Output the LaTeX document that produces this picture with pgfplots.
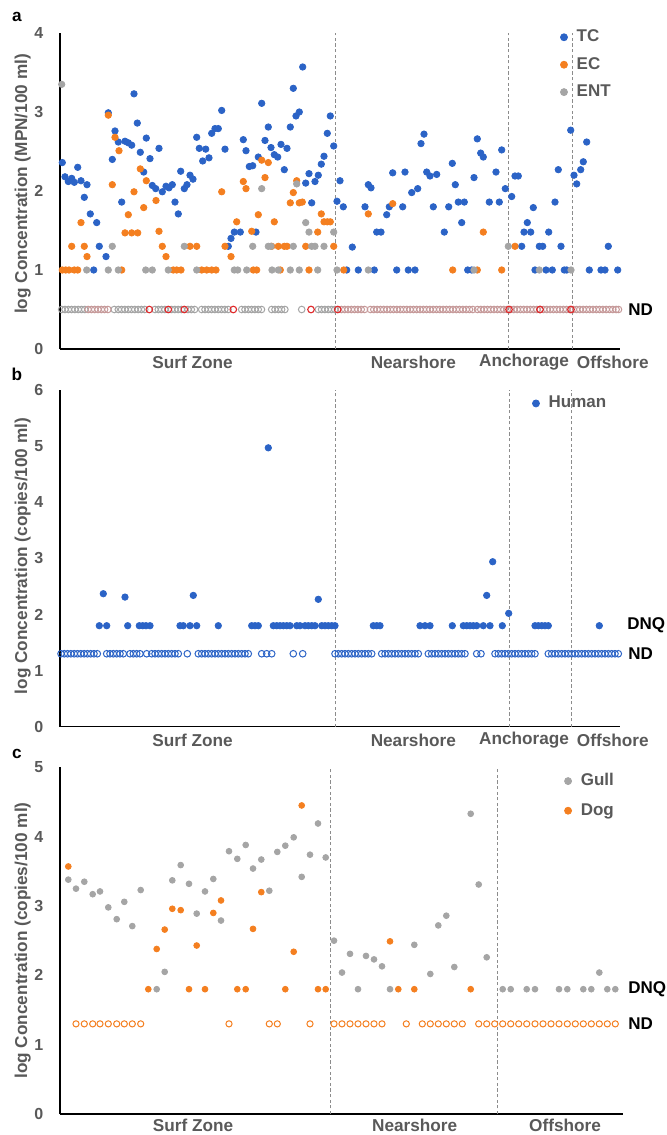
\documentclass[border=0pt]{standalone}
\usepackage{pgfplots}
\pgfplotsset{compat=1.18}
\usepackage{fontspec}
\setmainfont{Liberation Sans}
\definecolor{tcblue}{HTML}{2B63C6}
\definecolor{ecorange}{HTML}{F47F20}
\definecolor{entgray}{HTML}{A5A5A5}
\definecolor{ndred}{HTML}{E0282A}
\definecolor{ndmix}{HTML}{C69A9A}
\definecolor{txtgray}{HTML}{595959}
\definecolor{dashgray}{HTML}{8C8C8C}
\newcommand{\tickfont}{\bfseries\fontsize{8}{9.5}\selectfont}
\newcommand{\labfont}{\bfseries\fontsize{8.6}{10}\selectfont}
\newcommand{\legfont}{\bfseries\fontsize{8.5}{10}\selectfont}
\tikzset{dsh/.style={dashgray, line width=0.45pt, dash pattern=on 1.6pt off 1.2pt}}
\pgfplotsset{
  panel/.style={
    scale only axis,
    axis x line*=bottom, axis y line*=left,
    axis line style={black, line width=0.7pt},
    xtick=\empty,
    major tick length=0pt,
    ymin=0, xmin=60,
    yticklabel style={font=\tickfont, text=txtgray, xshift=-4.8pt},
    clip=false,
    anchor=south west,
    legend cell align=left,
    legend image code/.code={\draw[##1, mark size=1.75pt] plot coordinates {(0pt,0pt)};},
    legend style={draw=none, fill=none, font=\legfont, text=txtgray, inner sep=0pt, row sep=2.3pt,
      /tikz/every odd column/.append style={column sep=2.6pt}},
  },
}
\begin{document}
\begin{tikzpicture}
\path[use as bounding box] (0,0) rectangle (333.5pt,-567.5pt);

% ---------------- panel a ----------------
\begin{axis}[panel, at={(30pt,-174.5pt)}, width=280pt, height=158pt, xmax=620, ymax=4,
  ytick={0,1,2,3,4}, yticklabels={0,1,2,3,4},
  legend style={at={(0.893,1.024)}, anchor=north west}]
\addplot[only marks, mark=*, mark size=1.6pt, color=tcblue] coordinates {
(62.3,2.36)(65,2.18)(68.3,2.12)(71.7,2.16)(74.3,2.11)(77.7,2.30)(81,2.13)(84.3,1.92)(87,2.08)(90.3,1.71)
(93.7,1.0)(96.7,1.60)(99.3,1.30)(106,1.17)(108.3,2.99)(112.3,2.40)(115,2.76)(118.3,2.62)(121.7,1.86)(125,2.63)
(128.3,2.61)(131.7,2.58)(134,3.23)(137.3,2.86)(140.3,2.49)(143.7,2.24)(146.3,2.67)(150,2.41)(152.3,2.07)(155.7,2.03)
(159,2.54)(162.3,1.99)(166,2.06)(169,2.04)(172.3,2.08)(175,1.86)(178.3,1.71)(180.7,2.25)(184.3,2.03)(187,2.08)
(190,2.20)(193,2.15)(196.7,2.68)(199.3,2.54)(202.7,2.38)(205.7,2.53)(209,2.42)(211.7,2.73)(215,2.79)(218.3,2.79)
(221.7,3.02)(225,2.53)(228.3,1.30)(231,1.40)(234.3,1.48)(240.3,1.48)(243.3,2.65)(246,2.51)(249.3,2.31)(252.7,2.32)
(256,1.48)(258.3,2.43)(261.7,3.11)(265,2.64)(268.3,2.81)(271,2.55)(274.3,2.46)(277.7,2.43)(281,2.59)(284.3,2.27)
(287,2.54)(290.3,2.81)(293.3,3.30)(296,2.95)(299.3,3.00)(302.7,3.57)(305.7,2.10)(309,2.22)(311.7,1.85)(315,2.12)
(318.3,2.20)(321.3,2.34)(324,2.44)(327.3,2.73)(330.3,2.95)(333.7,2.57)(337,1.87)(340,2.13)(343.3,1.80)(346.7,1.0)
(352.3,1.29)(358.3,1.0)(365,1.80)(368.3,2.08)(371,2.04)(374.3,1.0)(376.7,1.48)(381,1.48)(386.7,1.70)(389.3,1.80)
(392.7,2.23)(396.7,1.0)(402.7,1.80)(405,2.24)(408.3,1.0)(411.7,1.98)(415,1.0)(417.7,2.03)(421,2.60)(424,2.72)
(426.7,2.24)(430,2.19)(433.3,1.80)(436.7,2.21)(444.3,1.48)(448.7,1.80)(452.3,2.35)(455.3,2.08)(458.3,1.86)(461.7,1.60)
(464.3,1.86)(467.7,1.0)(471.7,1.0)(474,2.17)(477.3,2.66)(480.7,2.48)(483.3,2.43)(489.3,1.86)(496,2.24)(499.3,1.86)
(501.7,2.52)(505.3,2.03)(511.7,1.93)(515,2.19)(518.3,2.19)(521.7,1.30)(524,1.48)(527.3,1.60)(530.7,1.48)(533.3,1.79)
(535,1.0)(539.3,1.30)(542.7,1.30)(546,1.0)(548.7,1.48)(552.3,1.0)(555,1.86)(558.3,2.27)(561,1.30)(564.3,1.0)
(566.7,1.0)(570.7,2.77)(574,2.20)(576.7,2.09)(580.7,2.27)(583.3,2.37)(586.7,2.62)(589.3,1.0)(601,1.0)(605,1.0)
(608.3,1.30)(617.7,1.0)
};
\addlegendentry{TC}
\addplot[only marks, mark=*, mark size=1.6pt, color=ecorange] coordinates {
(62.3,1.0)(65.7,1.0)(69,1.0)(71.7,1.30)(74.3,1.0)(77.7,1.0)(81,1.60)(84.3,1.30)(87,1.17)(108.3,2.96)
(112.3,2.08)(115,2.68)(119,2.51)(121.7,1.0)(125,1.47)(128.3,1.70)(131.7,1.47)(134,1.99)(137.7,1.47)(140.3,2.28)
(143.7,1.79)(146.3,2.13)(156,1.88)(159,1.49)(162.3,1.30)(166,1.17)(173.3,1.0)(176.7,1.0)(181,1.0)(190,1.30)
(196.7,1.30)(201.7,1.0)(206.7,1.0)(211.7,1.0)(216,1.0)(221.7,1.99)(225,1.30)(231,1.17)(236.7,1.61)(243.3,2.12)
(246,2.03)(251.7,1.49)(253.3,1.0)(256.7,1.0)(258.3,1.70)(261.7,2.39)(265,2.17)(268.3,2.36)(271.7,1.30)(274.3,1.61)
(278.3,1.30)(280.3,1.0)(284.3,1.30)(287,1.30)(290.3,1.85)(293.3,1.98)(296.7,2.13)(299.3,1.85)(302.3,1.86)(305.7,1.30)
(309,1.0)(317.7,1.48)(321.3,1.71)(324,1.61)(327.3,1.61)(330.3,1.61)(333.7,1.30)(343.7,1.0)(368.3,1.71)(392.7,1.84)
(452.7,1.0)(477.3,1.0)(483.3,1.48)(501.7,1.0)(515,1.30)
};
\addlegendentry{EC}
\addplot[only marks, mark=*, mark size=1.6pt, color=entgray] coordinates {
(61.7,3.35)(86.7,1.0)(108.3,1.0)(112.3,1.30)(118.3,1.0)(145.7,1.0)(152.3,1.0)(168.3,1.0)(184.3,1.30)(196.7,1.0)
(234.3,1.0)(237.7,1.0)(246.7,1.0)(252.7,1.30)(261.7,2.03)(268.3,1.30)(271,1.30)(272,1.0)(278.3,1.0)(290.3,1.0)
(293.3,1.30)(296.7,2.09)(299.3,1.0)(305.7,1.60)(309,1.48)(311.7,1.30)(315,1.30)(317.7,1.0)(324,1.30)(333.7,1.48)
(337,1.0)(368.3,1.0)(474,1.0)(508.3,1.30)(539.3,1.0)(571,1.0)
};
\addlegendentry{ENT}
\addplot[forget plot, only marks, mark=o, mark size=1.65pt, color=entgray, mark options={line width=0.5pt}] coordinates {
(61.7,0.5)(65,0.5)(68.3,0.5)(71.6,0.5)(74.9,0.5)(78.2,0.5)(81.5,0.5)(84.8,0.5)(114.3,0.5)(118.3,0.5)
(121.6,0.5)(124.9,0.5)(128.2,0.5)(131.5,0.5)(134.8,0.5)(138.1,0.5)(141.4,0.5)(144.7,0.5)(155,0.5)(158.3,0.5)
(161.6,0.5)(164.9,0.5)(171.5,0.5)(174.8,0.5)(178.1,0.5)(181.4,0.5)(188,0.5)(191.3,0.5)(194.6,0.5)(201.7,0.5)
(205,0.5)(208.3,0.5)(211.6,0.5)(214.9,0.5)(218.2,0.5)(221.5,0.5)(224.8,0.5)(228.1,0.5)(241.7,0.5)(245,0.5)
(248.3,0.5)(251.6,0.5)(254.9,0.5)(258.2,0.5)(261.5,0.5)(271.7,0.5)(275,0.5)(278.3,0.5)(281.6,0.5)(284.9,0.5)
(301.7,0.5)(318.3,0.5)(321.6,0.5)(324.9,0.5)(328.2,0.5)(331.5,0.5)(334.8,0.5)
};
\addplot[forget plot, only marks, mark=o, mark size=1.65pt, color=ndmix, mark options={line width=0.5pt}] coordinates {
(88.1,0.5)(91.4,0.5)(94.7,0.5)(98,0.5)(101.3,0.5)(104.6,0.5)(107.9,0.5)
(341.4,0.5)(344.7,0.5)(348.0,0.5)(351.3,0.5)(354.6,0.5)(357.9,0.5)(361.2,0.5)(364.5,0.5)(370.5,0.5)(373.8,0.5)
(377.1,0.5)(380.4,0.5)(383.7,0.5)(387.0,0.5)(390.3,0.5)(393.6,0.5)(396.9,0.5)(400.2,0.5)(403.5,0.5)(406.8,0.5)
(410.1,0.5)(413.4,0.5)(416.7,0.5)(420.0,0.5)(423.3,0.5)(426.6,0.5)(429.9,0.5)(433.2,0.5)(436.5,0.5)(439.8,0.5)
(443.1,0.5)(446.4,0.5)(449.7,0.5)(453.0,0.5)(456.3,0.5)(459.6,0.5)(462.9,0.5)(466.2,0.5)(469.5,0.5)(472.8,0.5)
(477.5,0.5)(480.8,0.5)(484.1,0.5)(487.4,0.5)(490.7,0.5)(494.0,0.5)(497.3,0.5)(500.6,0.5)(503.9,0.5)(507.2,0.5)
(510.5,0.5)(513.8,0.5)(517.1,0.5)(520.4,0.5)(523.7,0.5)(527.0,0.5)(530.3,0.5)(533.6,0.5)(536.9,0.5)(540.2,0.5)
(543.5,0.5)(546.8,0.5)(550.1,0.5)(553.4,0.5)(556.7,0.5)(560.0,0.5)(563.3,0.5)(566.6,0.5)(569.9,0.5)(573.2,0.5)
(576.5,0.5)(579.8,0.5)(583.1,0.5)(586.4,0.5)(589.7,0.5)(593.0,0.5)(596.3,0.5)(599.6,0.5)(602.9,0.5)(606.2,0.5)
(609.5,0.5)(612.8,0.5)(616.1,0.5)(618.5,0.5)
};
\addplot[forget plot, only marks, mark=o, mark size=1.65pt, color=ndred, mark options={line width=0.55pt}] coordinates {
(149.3,0.5)(168.3,0.5)(184.3,0.5)(233.3,0.5)(311,0.5)(337.7,0.5)(509,0.5)(540,0.5)(571,0.5)
};
\draw[dsh] (axis cs:335,0) -- (axis cs:335,4);
\draw[dsh] (axis cs:508,0) -- (axis cs:508,4);
\draw[dsh] (axis cs:572,0) -- (axis cs:572,4);
\end{axis}

% ---------------- panel b ----------------
\begin{axis}[panel, at={(30pt,-363.35pt)}, width=280pt, height=168.35pt, xmax=620, ymax=6,
  ytick={0,1,2,3,4,5,6}, yticklabels={0,1,2,3,4,5,6},
  legend style={at={(0.843,0.995)}, anchor=north west}]
\addplot[only marks, mark=*, mark size=1.6pt, color=tcblue] coordinates {
(99.3,1.8)(103.3,2.37)(106.7,1.8)(125,2.31)(127.7,1.8)(139.3,1.8)(142.7,1.8)(146,1.8)(150,1.8)(180,1.8)
(183.3,1.8)(190,1.8)(193.3,2.34)(196.7,1.8)(218.3,1.8)(251.7,1.8)(255,1.8)(258.3,1.8)(268.3,4.97)(273.3,1.8)
(276.7,1.8)(280,1.8)(283.3,1.8)(286.7,1.8)(290,1.8)(296.7,1.8)(300,1.8)(305,1.8)(308.3,1.8)(311.7,1.8)
(315,1.8)(318.3,2.27)(321.7,1.8)(325,1.8)(328.3,1.8)(331.7,1.8)(335,1.8)(373.3,1.8)(376.7,1.8)(380,1.8)
(420,1.8)(425,1.8)(430,1.8)(452.3,1.8)(463.3,1.8)(466.7,1.8)(470,1.8)(473.3,1.8)(476.7,1.8)(483.3,1.8)
(486.7,2.34)(490,1.8)(492.7,2.94)(502.3,1.8)(508.7,2.02)(535,1.8)(538.3,1.8)(541.7,1.8)(545,1.8)(548.3,1.8)
(599.3,1.8)
};
\addlegendentry{Human}
\addplot[forget plot, only marks, mark=o, mark size=1.65pt, color=tcblue, mark options={line width=0.5pt}] coordinates {
(61,1.3)(64.3,1.3)(67.6,1.3)(70.9,1.3)(74.2,1.3)(77.5,1.3)(80.8,1.3)(84.1,1.3)(87.4,1.3)(90.7,1.3)(94,1.3)(97.3,1.3)
(106.7,1.3)(110,1.3)(113.3,1.3)(116.7,1.3)(120,1.3)(123.3,1.3)
(130,1.3)(133.3,1.3)(136.7,1.3)(140,1.3)(146.7,1.3)
(151.7,1.3)(155,1.3)(158.3,1.3)(161.7,1.3)(165,1.3)(168.3,1.3)(171.7,1.3)(175,1.3)(178.3,1.3)(187.3,1.3)
(198.3,1.3)(201.7,1.3)(205,1.3)(208.3,1.3)(211.7,1.3)(215,1.3)
(218.3,1.3)(221.7,1.3)(225,1.3)(228.3,1.3)(231.7,1.3)(235,1.3)(238.3,1.3)(241.7,1.3)(245,1.3)(248.3,1.3)
(261.7,1.3)(266.7,1.3)(271.7,1.3)(293.3,1.3)(302.7,1.3)
(335,1.3)(338.3,1.3)(341.7,1.3)(345,1.3)(348.3,1.3)(351.7,1.3)(355,1.3)(358.3,1.3)(361.7,1.3)(365,1.3)(368.3,1.3)(371.7,1.3)
(381.7,1.3)(385,1.3)(388.3,1.3)(391.7,1.3)(395,1.3)(398.3,1.3)(401.7,1.3)(405,1.3)(408.3,1.3)(411.7,1.3)(415,1.3)(418.3,1.3)
(428.3,1.3)(431.7,1.3)(435,1.3)(438.3,1.3)(441.7,1.3)(445,1.3)(448.3,1.3)(451.7,1.3)(455,1.3)(458.3,1.3)(461.7,1.3)(465,1.3)
(476.7,1.3)(481,1.3)
(495,1.3)(498.3,1.3)(501.7,1.3)(505,1.3)(508.3,1.3)(511.7,1.3)(515,1.3)(518.3,1.3)(521.7,1.3)(525,1.3)(528.3,1.3)(531.7,1.3)(535,1.3)
(548.3,1.3)(551.7,1.3)(555,1.3)(558.3,1.3)(561.7,1.3)(565,1.3)(568.3,1.3)(571.7,1.3)(575,1.3)(578.3,1.3)(581.7,1.3)
(585,1.3)(588.3,1.3)(591.7,1.3)(595,1.3)(598.3,1.3)(601.7,1.3)(605,1.3)(608.3,1.3)(611.7,1.3)(615,1.3)(618.3,1.3)
};
\draw[dsh] (axis cs:335,0) -- (axis cs:335,6);
\draw[dsh] (axis cs:509.3,0) -- (axis cs:509.3,6);
\draw[dsh] (axis cs:571.7,0) -- (axis cs:571.7,6);
\end{axis}

% ---------------- panel c ----------------
\begin{axis}[panel, at={(30pt,-557pt)}, width=281.35pt, height=173.35pt, xmax=622.7, ymax=5,
  ytick={0,1,2,3,4,5}, yticklabels={0,1,2,3,4,5},
  legend style={at={(0.896,0.995)}, anchor=north west, row sep=3.3pt}]
\addplot[only marks, mark=*, mark size=1.45pt, color=entgray] coordinates {
(68.3,3.38)(76,3.25)(84.3,3.35)(92.7,3.17)(100,3.21)(108.3,2.98)(116.7,2.81)(124.3,3.06)(132.3,2.71)(140.7,3.23)
(156.7,1.80)(164.7,2.05)(172.3,3.37)(180.7,3.59)(189,3.32)(196.7,2.89)(205,3.21)(213.3,3.39)(221,2.79)(229,3.79)
(237.3,3.68)(245.7,3.88)(253,3.54)(261.3,3.67)(269.3,3.22)(277.3,3.78)(285.3,3.87)(293.7,3.99)(301.7,3.42)(310,3.74)
(318,4.19)(325.7,3.70)(334,2.50)(342,2.04)(350,2.31)(358,1.80)(366,2.28)(374,2.23)(382,2.13)(390,1.80)
(414.3,2.44)(430.3,2.02)(438.3,2.72)(446.3,2.86)(454.3,2.12)(470.7,4.33)(478.7,3.31)(486.7,2.26)(502.7,1.80)(510.7,1.80)
(526.7,1.80)(535,1.80)(559,1.80)(567.3,1.80)(583.3,1.80)(591.3,1.80)(599.3,2.04)(607.3,1.80)(615.3,1.80)
};
\addlegendentry{Gull}
\addplot[only marks, mark=*, mark size=1.45pt, color=ecorange] coordinates {
(68.3,3.57)(148.3,1.80)(156.7,2.38)(164.7,2.66)(172.3,2.96)(180.7,2.94)(189,1.80)(196.7,2.43)(205,1.80)(213.3,2.90)
(221,3.08)(237.3,1.80)(245.7,1.80)(253,2.67)(261.3,3.20)(285.3,1.80)(293.7,2.34)(301.7,4.45)(318,1.80)(325.7,1.80)
(390,2.49)(398.3,1.80)(414.3,1.80)(470.7,1.80)
};
\addlegendentry{Dog}
\addplot[forget plot, only marks, mark=o, mark size=1.55pt, color=ecorange, mark options={line width=0.5pt}] coordinates {
(76,1.3)(84.3,1.3)(92.7,1.3)(100,1.3)(108.3,1.3)(116.7,1.3)(124.3,1.3)(132.3,1.3)(140.7,1.3)(229,1.3)
(269.3,1.3)(277.3,1.3)(310,1.3)(334,1.3)(342,1.3)(350,1.3)(358,1.3)(366,1.3)(374,1.3)(382,1.3)
(406.3,1.3)(422.3,1.3)(430.3,1.3)(438.3,1.3)(446.3,1.3)(454.3,1.3)(462.3,1.3)(478.7,1.3)(486.7,1.3)(494.7,1.3)
(502.7,1.3)(510.7,1.3)(518.7,1.3)(526.7,1.3)(535,1.3)(543,1.3)(551,1.3)(559,1.3)(567.3,1.3)(575.3,1.3)
(583.3,1.3)(591.3,1.3)(599.3,1.3)(607.3,1.3)(615.3,1.3)
};
\draw[dsh] (axis cs:330,0) -- (axis cs:330,5);
\draw[dsh] (axis cs:497.3,0) -- (axis cs:497.3,5);
\end{axis}

% ---------------- text ----------------
\begin{scope}[x=0.5pt, y=-0.5pt]
\node[font=\labfont] at (17,17) {a};
\node[font=\labfont] at (17,374) {b};
\node[font=\labfont] at (17,754) {c};
\node[font=\labfont, text=txtgray, rotate=90] at (22.7,184) {log Concentration (MPN/100 ml)};
\node[font=\labfont, text=txtgray, rotate=90] at (22.7,556) {log Concentration (copies/100 ml)};
\node[font=\labfont, text=txtgray, rotate=90] at (22.7,940.5) {log Concentration (copies/100 ml)};
\begin{scope}[every node/.style={font=\labfont, text=txtgray}]
\node at (192.5,362) {Surf Zone};
\node at (413.3,362) {Nearshore};
\node at (524,362) {Anchorage};
\node at (612.8,362) {Offshore};
\node at (192.5,740) {Surf Zone};
\node at (413.3,740) {Nearshore};
\node at (524,740) {Anchorage};
\node at (612.8,740) {Offshore};
\node at (193,1125) {Surf Zone};
\node at (414.7,1125) {Nearshore};
\node at (565,1125) {Offshore};
\end{scope}
\begin{scope}[every node/.style={font=\legfont, anchor=west, inner sep=0pt}]
\node at (628,309.5) {ND};
\node at (627,625.7) {DNQ};
\node at (628,653.8) {ND};
\node at (628,989.3) {DNQ};
\node at (628,1023.9) {ND};
\end{scope}
\end{scope}
\end{tikzpicture}
\end{document}
